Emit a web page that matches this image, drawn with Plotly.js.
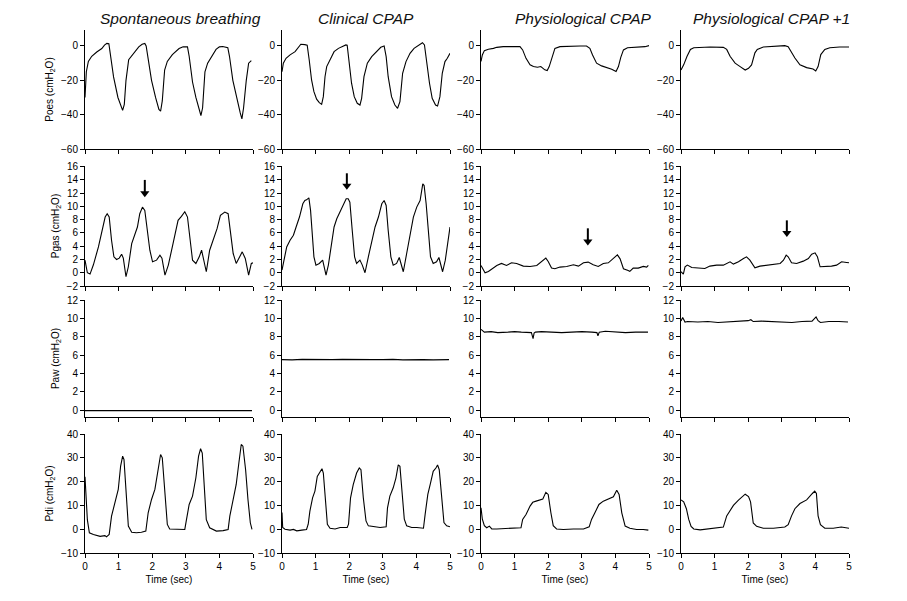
<!DOCTYPE html>
<html><head><meta charset="utf-8">
<script src="https://cdn.plot.ly/plotly-3.0.1.min.js"></script>
<style>html,body{margin:0;padding:0;background:#fff}#chart{width:907px;height:601px}</style>
</head><body><div id="chart"></div>
<script>
// ---------- column titles / row labels ----------
const conditions = ['Spontaneous breathing', 'Clinical CPAP', 'Physiological CPAP', 'Physiological CPAP +1'];
const signals = ['Poes', 'Pgas', 'Paw', 'Pdi'];
const timeTicks = [0, 1, 2, 3, 4, 5];

// ---------- Poes (cmH2O) ----------
const poesSB_t = [0,0.04,0.1,0.2,0.35,0.5,0.58,0.65,0.71,0.75,0.85,0.98,1.08,1.12,1.17,1.22,1.3,1.45,1.6,1.7,1.78,1.82,1.9,1.98,2.1,2.2,2.25,2.3,2.37,2.45,2.6,2.8,2.92,3.05,3.1,3.2,3.3,3.4,3.45,3.5,3.57,3.65,3.8,3.9,4.0,4.1,4.25,4.3,4.4,4.52,4.62,4.67,4.72,4.8,4.87,4.95];
const poesSB_v = [-30,-15,-9,-6,-3.5,-1.5,0.5,1.5,1.3,-5,-18,-30,-36,-37.5,-34,-20,-8,-4,-0.5,1,1.5,0,-10,-20,-30,-37,-38,-32,-14,-9,-5,-1.5,-0.5,-0.5,-6,-21,-30,-37,-40.5,-36,-15,-10,-5,-2,-0.5,-0.3,-1,-6,-20,-31,-39,-42.5,-36,-20,-10,-8.5];
const poesCC_t = [0,0.04,0.12,0.24,0.39,0.49,0.56,0.68,0.75,0.81,0.88,0.95,1.03,1.11,1.18,1.23,1.28,1.33,1.43,1.55,1.68,1.83,1.9,1.94,2.0,2.07,2.15,2.24,2.32,2.37,2.44,2.54,2.67,2.82,2.94,3.04,3.1,3.16,3.26,3.36,3.44,3.51,3.59,3.69,3.81,3.93,4.06,4.18,4.24,4.31,4.39,4.47,4.57,4.63,4.7,4.77,4.85,4.92,5.0];
const poesCC_v = [-15,-10,-7.2,-5.2,-3.3,-0.4,1,0.8,0.4,-8.2,-19.8,-26.6,-31,-33,-34,-29.5,-17.9,-12,-8.2,-3.3,-1.4,0.2,0.6,0.4,-10,-21.7,-29.5,-33.4,-34.4,-30.5,-17.9,-10,-6.2,-3.3,-0.8,0,-6.2,-17.9,-29.5,-34.4,-36.3,-32.4,-15.9,-9.1,-4.3,-1.4,0.6,1.9,0.6,-10,-21.7,-30.5,-34.4,-35,-29.5,-15.9,-9.1,-7.2,-4.3];
const poesPC_t = [0,0.04,0.1,0.22,0.37,0.47,0.66,0.86,1.16,1.24,1.34,1.46,1.56,1.68,1.78,1.9,1.97,2.03,2.13,2.2,2.35,2.65,2.95,3.14,3.24,3.32,3.44,3.59,3.74,3.89,4.02,4.09,4.16,4.24,4.36,4.53,4.73,4.88,5.0];
const poesPC_v = [-9,-5.2,-2.7,-1.9,-1.4,-0.8,-0.4,-0.4,-0.4,-2.3,-7.2,-11,-12,-12.4,-12,-13.9,-14.3,-12,-5.2,-1.4,-0.4,0,0,0,-1.4,-5.2,-10,-11.6,-12.6,-13.5,-14.9,-12,-6.6,-2.3,-1,-0.8,-0.4,-0.4,0.2];
const poesP1_t = [0,0.08,0.18,0.28,0.38,0.57,0.87,1.26,1.36,1.46,1.61,1.76,1.91,2.01,2.1,2.2,2.27,2.45,2.75,3.09,3.19,3.29,3.39,3.54,3.74,3.93,4.01,4.08,4.16,4.28,4.43,4.72,5.0];
const poesP1_v = [-14,-11,-6,-2,-1,-0.8,-0.6,-0.8,-2,-6,-10,-12,-14,-13,-11,-4,-2,-0.6,-0.4,0.2,-0.4,-4,-7,-11,-12.6,-13.4,-14.6,-12,-5,-2,-1,-0.6,-0.6];

// ---------- Pgas (cmH2O) ----------
const pgasSB_t = [0,0.07,0.15,0.25,0.4,0.5,0.6,0.66,0.72,0.79,0.86,0.94,1.02,1.09,1.14,1.22,1.29,1.39,1.49,1.56,1.63,1.71,1.78,1.85,1.93,2.01,2.13,2.23,2.29,2.38,2.48,2.62,2.77,2.87,2.97,3.05,3.12,3.2,3.3,3.4,3.47,3.53,3.61,3.71,3.81,3.93,4.03,4.16,4.26,4.34,4.41,4.5,4.6,4.68,4.77,4.87,4.95,5.0];
const pgasSB_v = [1.9,0,-0.2,1.2,3.9,6.4,8.4,8.9,8.4,4.9,2.4,2,2.2,2.8,2.2,-0.6,0.9,4.4,5.9,6.9,8.9,9.9,9.4,6.9,3.4,1.65,1.9,2.65,2.2,-0.35,1.15,4.4,7.9,8.5,9.2,8.4,5.4,1.9,1.4,2.4,3.4,1.9,0.15,3.4,4.9,6.65,8.65,9.15,8.9,5.9,2.9,1.4,2.4,3.15,2.15,-0.35,1.4,1.5];
const pgasCC_t = [0,0.06,0.14,0.24,0.34,0.42,0.52,0.62,0.68,0.73,0.8,0.85,0.9,0.95,1.01,1.11,1.21,1.25,1.31,1.38,1.46,1.55,1.63,1.73,1.83,1.91,1.97,2.02,2.09,2.16,2.22,2.32,2.39,2.47,2.57,2.67,2.77,2.87,2.97,3.04,3.1,3.16,3.24,3.31,3.41,3.49,3.55,3.61,3.71,3.81,3.91,4.01,4.11,4.19,4.23,4.29,4.36,4.42,4.5,4.6,4.67,4.72,4.78,4.86,4.95,5.0];
const pgasCC_v = [0.4,1.9,3.9,4.9,5.65,6.9,8.4,10.4,10.9,11,11.3,9.4,5.9,2.4,1.15,1.4,1.9,1.15,-0.35,1.15,3.9,6.9,8.15,9.15,10.15,11.15,11.15,10.65,6.4,2.4,1.4,1.9,1.15,0,2.4,4.9,6.9,8.4,10.4,10.9,10.15,6.4,2.4,1.15,1.4,2.3,1.4,0.15,2.9,5.9,8.4,9.9,10.9,13.4,13.15,10.4,5.9,2.4,1.4,1.65,2.3,1.4,0.15,1.9,4.9,6.9];
const pgasPC_t = [0,0.05,0.12,0.22,0.32,0.47,0.61,0.76,0.91,1.06,1.26,1.46,1.66,1.81,1.93,2.0,2.1,2.2,2.35,2.55,2.75,2.9,3.05,3.19,3.34,3.49,3.64,3.79,3.94,4.06,4.14,4.24,4.38,4.43,4.53,4.68,4.83,4.93,4.98];
const pgasPC_v = [1.1,0.6,0,0.2,0.6,1.1,1.4,1.1,1.5,1.4,1.0,0.95,1.1,1.7,2.2,1.7,0.7,0.6,0.85,0.95,1.2,1.0,1.5,1.6,1.2,0.95,1.4,1.5,2.1,2.7,2.1,0.6,0.35,0.2,0.7,0.7,0.95,0.85,1.1];
const pgasP1_t = [0,0.07,0.12,0.19,0.32,0.52,0.71,0.86,1.06,1.26,1.46,1.56,1.71,1.86,1.95,2.05,2.2,2.35,2.55,2.75,2.95,3.05,3.13,3.19,3.29,3.44,3.64,3.79,3.89,3.99,4.06,4.14,4.29,4.48,4.63,4.78,4.93,5.0];
const pgasP1_v = [0.15,-0.2,0.9,1.15,0.8,0.75,0.65,1.0,1.15,1.15,1.65,1.3,1.65,2.15,2.4,1.9,0.75,1.0,1.15,1.25,1.4,1.9,2.65,2.4,1.5,1.4,1.75,2.15,2.8,3.0,2.4,0.9,0.9,1.0,1.15,1.65,1.55,1.5];

// ---------- Paw (cmH2O) ----------
const pawSB_t = [0,0.5,1,1.5,2,2.5,3,3.5,4,4.5,4.97];
const pawSB_v = [-0.05,-0.05,-0.08,-0.05,-0.03,-0.05,-0.05,-0.06,-0.05,-0.05,-0.05];
const pawCC_t = [0,0.3,0.6,0.9,1.2,1.5,1.8,2.1,2.4,2.7,3.0,3.3,3.6,3.9,4.2,4.5,4.8,4.97];
const pawCC_v = [5.5,5.47,5.53,5.5,5.47,5.5,5.53,5.5,5.47,5.5,5.5,5.53,5.47,5.5,5.5,5.47,5.5,5.5];
const pawPC_t = [0,0.05,0.1,0.3,0.5,0.8,1.0,1.2,1.5,1.55,1.58,1.62,1.8,2.1,2.4,2.7,3.0,3.3,3.45,3.48,3.52,3.7,4.0,4.3,4.6,4.97];
const pawPC_v = [8.8,8.6,8.5,8.55,8.45,8.5,8.55,8.5,8.45,7.8,8.4,8.5,8.55,8.5,8.45,8.5,8.55,8.5,8.45,8.1,8.5,8.6,8.5,8.45,8.5,8.5];
const pawP1_t = [0,0.05,0.12,0.2,0.5,0.8,1.1,1.4,1.7,2.0,2.08,2.15,2.4,2.7,3.0,3.3,3.6,3.9,4.02,4.08,4.15,4.4,4.7,4.97];
const pawP1_v = [9.7,10.1,9.6,9.65,9.6,9.65,9.55,9.6,9.65,9.75,9.85,9.65,9.7,9.65,9.55,9.55,9.65,9.7,10.15,9.75,9.55,9.65,9.65,9.6];

// ---------- Pdi (cmH2O) ----------
const pdiSB_t = [0,0.03,0.07,0.13,0.25,0.45,0.59,0.64,0.72,0.79,0.89,0.99,1.06,1.12,1.16,1.22,1.29,1.39,1.53,1.68,1.81,1.88,1.98,2.08,2.18,2.25,2.3,2.38,2.45,2.52,2.72,2.97,3.02,3.1,3.2,3.3,3.38,3.44,3.49,3.54,3.61,3.71,3.91,4.11,4.26,4.31,4.41,4.5,4.58,4.65,4.7,4.78,4.85,4.92,4.97];
const pdiSB_v = [22,14,4,-1.5,-2.2,-3,-2.7,-3.2,-2.2,5.5,11,16.7,26.5,30.7,29.3,13.9,1.3,-1.3,-1.5,-1.3,-0.8,6.9,12.5,16.7,25.8,31.4,30,13.9,2,0.1,-0.1,-0.1,4,10.4,13.9,21.6,30.7,33.8,32,18,4,0.6,-0.8,-0.6,-0.1,5.5,12.5,18.8,27.9,35.6,34.9,25,12.5,2.7,-0.1];
const pdiCC_t = [0,0.02,0.09,0.24,0.34,0.44,0.59,0.73,0.78,0.83,0.91,0.98,1.05,1.13,1.19,1.23,1.29,1.35,1.43,1.58,1.73,1.94,1.98,2.04,2.12,2.22,2.3,2.35,2.42,2.5,2.57,2.72,2.92,3.1,3.14,3.21,3.31,3.39,3.46,3.51,3.57,3.64,3.71,3.86,4.01,4.21,4.26,4.34,4.42,4.5,4.58,4.63,4.68,4.75,4.82,4.9,5.0];
const pdiCC_v = [7,0.7,0,-0.4,-0.1,-0.7,-0.4,-0.1,2.1,7.6,13.2,16,22.2,23.9,25.4,23.6,11.8,2.1,0.4,0.1,0.7,0.7,2.1,13.2,18.75,23.6,25.7,25,13.2,3.5,1.4,1,0.7,1,9,13.9,17.4,21.5,27,26.4,16,4.2,1.4,0.7,0.7,0.4,6.25,14.6,19.4,24.3,25.7,27,25,11.8,2.8,1.4,1];
const pdiPC_t = [0,0.04,0.1,0.17,0.25,0.32,0.47,0.76,1.06,1.19,1.24,1.34,1.46,1.54,1.64,1.74,1.84,1.93,2.0,2.08,2.15,2.25,2.45,2.75,3.05,3.22,3.29,3.39,3.51,3.64,3.79,3.94,4.04,4.11,4.19,4.29,4.43,4.63,4.83,4.98];
const pdiPC_v = [9,4.2,1.5,0.6,1.3,0.1,0.1,0.3,0.3,0.6,4.1,6.2,9.7,11.3,11.8,12.2,12.7,15.5,14.6,6.9,1.5,0.1,-0.1,0.1,0.1,1.0,4.1,6.9,10.4,11.8,12.7,13.6,16.4,14.6,6.9,1.3,0.4,-0.1,-0.1,-0.4];
const pdiP1_t = [0,0.08,0.16,0.23,0.3,0.38,0.57,0.77,1.07,1.26,1.36,1.46,1.56,1.71,1.84,1.91,2.01,2.07,2.15,2.25,2.45,2.75,3.09,3.19,3.29,3.39,3.54,3.74,3.91,3.98,4.03,4.08,4.15,4.28,4.53,4.77,5.0];
const pdiP1_v = [12.3,11.5,8.6,4.1,1.2,0.1,-0.3,0,0.4,0.9,5.6,7.8,10,12.2,13.7,14.7,13.7,11.5,2.6,1.2,0.4,0.4,0.9,1.9,5.6,8.6,10.8,12.3,15,16,15,5.6,1.9,0.4,0.4,0.9,0.4];

// ---------- arrows on the Pgas row (time, arrow tail, arrow tip) ----------
const arrowCol  = [0, 1, 2, 3];
const arrowTime = [1.78, 1.93, 3.18, 3.15];
const arrowTail = [14.0, 15.0, 6.7, 7.9];
const arrowTip  = [11.4, 12.5, 4.1, 5.4];

// ---------- assembly ----------
const series = [
  [[poesSB_t, poesSB_v], [poesCC_t, poesCC_v], [poesPC_t, poesPC_v], [poesP1_t, poesP1_v]],
  [[pgasSB_t, pgasSB_v], [pgasCC_t, pgasCC_v], [pgasPC_t, pgasPC_v], [pgasP1_t, pgasP1_v]],
  [[pawSB_t, pawSB_v], [pawCC_t, pawCC_v], [pawPC_t, pawPC_v], [pawP1_t, pawP1_v]],
  [[pdiSB_t, pdiSB_v], [pdiCC_t, pdiCC_v], [pdiPC_t, pdiPC_v], [pdiP1_t, pdiP1_v]]
];

const W = 907, H = 601;
const colPx = [[85, 253], [282, 450], [481, 649], [681, 849]];
const rowPx = [[30, 149], [166, 286], [300, 417], [434, 553]];
const yRanges = [[-60, 9.3], [-2, 16.1], [-0.75, 12], [-10, 40]];
const yDticks = [20, 2, 2, 10];
const titleX = [180, 366, 583, 771];

const FONT = 'Liberation Sans, Arial, Helvetica, sans-serif';
const data = [];
const layout = {
  width: W, height: H,
  margin: {l: 0, r: 0, t: 0, b: 0},
  paper_bgcolor: '#fff', plot_bgcolor: '#fff',
  showlegend: false,
  font: {family: FONT, size: 10, color: '#000'},
  annotations: []
};

for (let r = 0; r < 4; r++) {
  for (let c = 0; c < 4; c++) {
    const i = r * 4 + c + 1;
    const sx = i === 1 ? '' : String(i);
    data.push({
      x: series[r][c][0], y: series[r][c][1],
      xaxis: 'x' + sx, yaxis: 'y' + sx,
      type: 'scatter', mode: 'lines',
      line: {color: '#000', width: 1.1},
      hoverinfo: 'skip'
    });
    const xa = {
      domain: [colPx[c][0] / W, colPx[c][1] / W],
      range: [0, 5], tickvals: timeTicks, ticktext: timeTicks.map(String),
      ticks: 'outside', ticklen: 4, tickcolor: '#000', tickwidth: 1,
      showline: true, linecolor: '#000', linewidth: 1,
      showgrid: false, zeroline: false,
      showticklabels: r === 3,
      tickfont: {family: FONT, size: 10, color: '#000'},
      anchor: 'y' + sx, fixedrange: true
    };
    if (r === 3) xa.title = {text: 'Time (sec)', font: {family: FONT, size: 10, color: '#000'}, standoff: 4};
    const ya = {
      domain: [1 - rowPx[r][1] / H, 1 - rowPx[r][0] / H],
      range: yRanges[r], dtick: yDticks[r], tick0: 0,
      ticks: 'outside', ticklen: 4, tickcolor: '#000', tickwidth: 1,
      showline: true, linecolor: '#000', linewidth: 1,
      showgrid: false, zeroline: false,
      tickfont: {family: FONT, size: 10, color: '#000'},
      anchor: 'x' + sx, fixedrange: true
    };
    if (c === 0) ya.title = {text: signals[r] + ' (cmH<sub>2</sub>O)', font: {family: FONT, size: 10, color: '#000'}, standoff: 5};
    layout['xaxis' + sx] = xa;
    layout['yaxis' + sx] = ya;
  }
}

// column titles
for (let c = 0; c < 4; c++) {
  layout.annotations.push({
    xref: 'paper', yref: 'paper', x: titleX[c] / W, y: 1 - 19 / H,
    xanchor: 'center', yanchor: 'middle', showarrow: false,
    text: '<i>' + conditions[c] + '</i>',
    font: {family: FONT, size: 15.5, color: '#111'}
  });
}

// arrows: shaft as a line trace, head as a triangle marker just above the tip
const rowPxPerUnit = (rowPx[1][1] - rowPx[1][0]) / (yRanges[1][1] - yRanges[1][0]);
const headHalf = 4 / rowPxPerUnit;
for (let k = 0; k < arrowCol.length; k++) {
  const i = 4 + arrowCol[k] + 1;
  data.push({
    x: [arrowTime[k], arrowTime[k]], y: [arrowTail[k], arrowTip[k] + headHalf],
    xaxis: 'x' + i, yaxis: 'y' + i, type: 'scatter', mode: 'lines',
    line: {color: '#000', width: 2}, hoverinfo: 'skip'
  });
  data.push({
    x: [arrowTime[k]], y: [arrowTip[k] + headHalf],
    xaxis: 'x' + i, yaxis: 'y' + i, type: 'scatter', mode: 'markers',
    marker: {symbol: 'triangle-down', size: 8, color: '#000'}, hoverinfo: 'skip'
  });
}

Plotly.newPlot('chart', data, layout, {displayModeBar: false, staticPlot: true});
</script></body></html>
